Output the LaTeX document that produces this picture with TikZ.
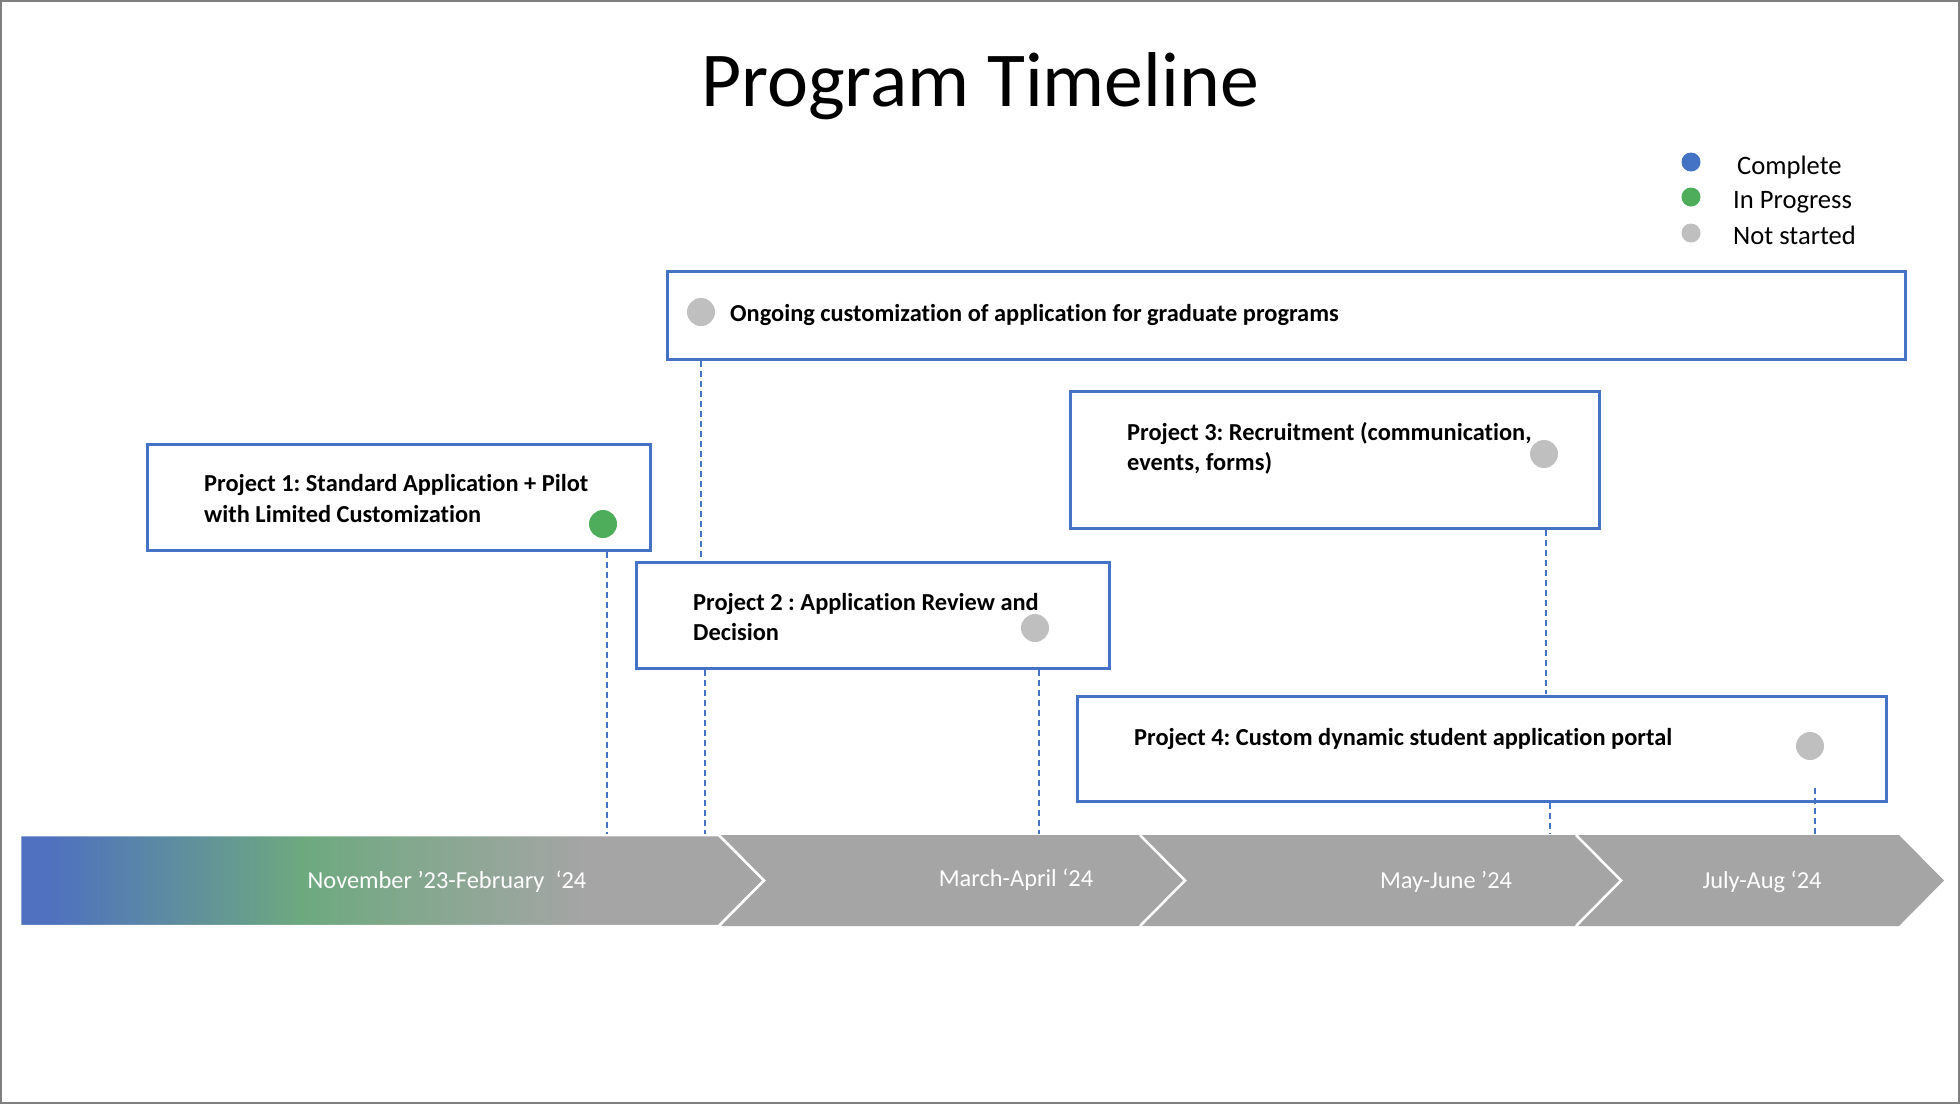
\documentclass[tikz,border=0pt]{standalone}
\usepackage{fontspec}
\setmainfont{Carlito}[Ligatures=NoCommon]
\frenchspacing
\definecolor{cblue}{HTML}{4472C4}
\definecolor{cgreen}{HTML}{4EAD5B}
\definecolor{cgray}{HTML}{BFBFBF}
\definecolor{bargray}{HTML}{A5A5A5}
\definecolor{barblue}{HTML}{4F71BF}
\definecolor{bargreen}{HTML}{6DA97F}
\definecolor{framegray}{HTML}{7F7F7F}
\pgfdeclarehorizontalshading{tlshade}{100bp}{color(0bp)=(barblue); color(27bp)=(barblue); color(44bp)=(bargreen); color(63bp)=(bargray); color(100bp)=(bargray)}
\begin{document}
\begin{tikzpicture}[x=1pt,y=-1pt,
  pbox/.style={draw=cblue, line width=3pt, fill=white, inner sep=0pt},
  btext/.style={inner sep=0pt, anchor=base west, font=\fontsize{24.4}{29}\selectfont\bfseries},
  bartext/.style={inner sep=0pt, anchor=base, text=white, font=\fontsize{24.4}{29}\selectfont},
  legtext/.style={inner sep=0pt, anchor=base west, font=\fontsize{26.6}{32}\selectfont},
  dot/.style={circle, inner sep=0pt, minimum size=#1},
  dashline/.style={draw=cblue, line width=1.2pt, dash pattern=on 6pt off 4pt},
  chev/.style={draw=white, line width=2.5pt, line join=miter}
]
\useasboundingbox (0,0) rectangle (1960,1104);
\fill[white] (0,0) rectangle (1960,1104);
\draw[framegray, line width=2.5pt] (1,1) rectangle (1959,1103);

% title
\node[inner sep=0pt, anchor=base, font=\fontsize{77.7}{90}\selectfont] (title) at (980,106) {Program Timeline};

% legend
\node[dot=19pt, fill=cblue] (lg1) at (1691,162) {};
\node[dot=19pt, fill=cgreen] (lg2) at (1691,197) {};
\node[dot=19pt, fill=cgray] (lg3) at (1691,233) {};
\node[legtext] (lt1) at (1737,174) {Complete};
\node[legtext] (lt2) at (1733,208) {In Progress};
\node[legtext] (lt3) at (1733,244) {Not started};

% timeline bar
\shade[shading=tlshade, chev] (20,835) -- (719,835) -- (764,880.5) -- (719,926) -- (20,926) -- cycle;
\fill[bargray] (719,835) -- (1140,835) -- (1185,880.5) -- (1140,926) -- (719,926) -- (764,880.5) -- cycle;
\fill[bargray] (1140,835) -- (1576,835) -- (1621,880.5) -- (1576,926) -- (1140,926) -- (1185,880.5) -- cycle;
\fill[bargray] (1576,835) -- (1899,835) -- (1944,880.5) -- (1899,926) -- (1576,926) -- (1621,880.5) -- cycle;
\draw[chev] (719,835) -- (764,880.5) -- (719,926);
\draw[chev] (1140,835) -- (1185,880.5) -- (1140,926);
\draw[chev] (1576,835) -- (1621,880.5) -- (1576,926);
\node[bartext] (s1) at (447,888) {November ’23-February \ ‘24};
\node[bartext] (s2) at (1016,886) {March-April ‘24};
\node[bartext] (s3) at (1446,888) {May-June ’24};
\node[bartext] (s4) at (1762,888) {July-Aug ‘24};

% boxes
\node[pbox, minimum width=1238pt, minimum height=88pt] (og) at (1286,315) {};
\node[pbox, minimum width=503pt, minimum height=106pt] (p1) at (398.5,497) {};
\node[pbox, minimum width=473pt, minimum height=106pt] (p2) at (872.5,615) {};
\node[pbox, minimum width=529pt, minimum height=137pt] (p3) at (1334.5,459.5) {};
\node[pbox, minimum width=809pt, minimum height=105pt] (p4) at (1481.5,748.5) {};

% texts
\node[btext] (ogt) at (730,321) {Ongoing customization of application for graduate programs};
\node[btext] (p1a) at (204,491) {Project 1: Standard Application + Pilot};
\node[btext] (p1b) at (204,522) {with Limited Customization};
\node[btext] (p2a) at (693,610) {Project 2 : Application Review and};
\node[btext] (p2b) at (693,640) {Decision};
\node[btext] (p3a) at (1127,440) {Project 3: Recruitment (communication,};
\node[btext] (p3b) at (1127,470) {events, forms)};
\node[btext] (p4a) at (1134,745) {Project 4: Custom dynamic student application portal};

% status dots
\node[dot=28pt, fill=cgray] (dog) at (701,312) {};
\node[dot=28pt, fill=cgreen] (dp1) at (603,524) {};
\node[dot=28pt, fill=cgray] (dp2) at (1035,628) {};
\node[dot=28pt, fill=cgray] (dp3) at (1544,454) {};
\node[dot=28pt, fill=cgray] (dp4) at (1810,746) {};

% dashed connectors
\coordinate (c1a) at (607,552);
\coordinate (c1b) at (607,834);
\coordinate (c2a) at (701,361);
\coordinate (c2b) at (701,560);
\coordinate (c3a) at (705,670);
\coordinate (c3b) at (705,834);
\coordinate (c4a) at (1039,670);
\coordinate (c4b) at (1039,834);
\coordinate (c5a) at (1546,530);
\coordinate (c5b) at (1546,694);
\coordinate (c6a) at (1550,803);
\coordinate (c6b) at (1550,834);
\coordinate (c7a) at (1815,788);
\coordinate (c7b) at (1815,834);
\draw[dashline] (c1a) -- (c1b);
\draw[dashline] (c2a) -- (c2b);
\draw[dashline] (c3a) -- (c3b);
\draw[dashline] (c4a) -- (c4b);
\draw[dashline] (c5a) -- (c5b);
\draw[dashline] (c6a) -- (c6b);
\draw[dashline] (c7a) -- (c7b);
\end{tikzpicture}
\end{document}
